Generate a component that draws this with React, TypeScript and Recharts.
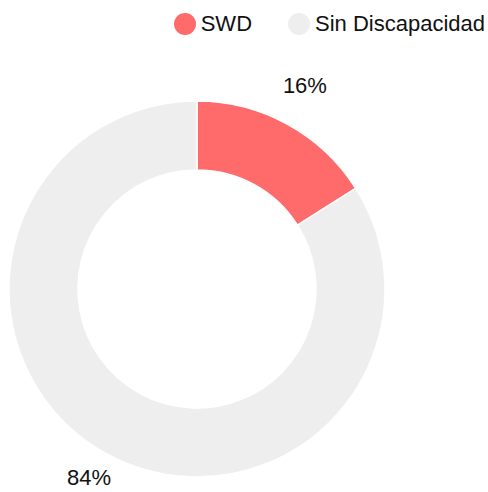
import { PieChart, Pie, Cell } from 'recharts'

const categories = ['SWD', 'Sin Discapacidad']
const values = [16, 84]
const colors = ['#FF6B6B', '#EEEEEE']

const data = categories.map((name, i) => ({ name, value: values[i] }))

const RADIAN = Math.PI / 180
const FONT = '"Liberation Sans", Arial, Helvetica, sans-serif'

const renderLabel = (props: any) => {
  const { cx, cy, midAngle, outerRadius, percent } = props
  const r = outerRadius + 36
  const x = cx + r * Math.cos(-midAngle * RADIAN)
  const y = cy + r * Math.sin(-midAngle * RADIAN)
  return (
    <text x={x} y={y} textAnchor="middle" fill="#111" fontSize={22} fontFamily={FONT}>
      {`${Math.round(percent * 100)}%`}
    </text>
  )
}

function ChartLegend() {
  return (
    <div style={{ position: 'absolute', top: 0, right: 3, display: 'flex', alignItems: 'center', height: 48, fontFamily: FONT, fontSize: 22, color: '#111' }}>
      {categories.map((c, i) => (
        <div key={c} style={{ display: 'flex', alignItems: 'center', marginLeft: i === 0 ? 0 : 36 }}>
          <span style={{ width: 22, height: 22, borderRadius: '50%', background: colors[i], marginRight: 5, display: 'inline-block' }} />
          <span>{c}</span>
        </div>
      ))}
    </div>
  )
}

export default function App() {
  return (
    <div style={{ position: 'absolute', left: 0, top: 0, width: 488, height: 492 }}>
      <PieChart width={488} height={492} margin={{ top: 0, right: 0, bottom: 0, left: 0 }}>
        <Pie
          data={data}
          dataKey="value"
          nameKey="name"
          cx={197}
          cy={289}
          innerRadius={119}
          outerRadius={188}
          startAngle={90}
          endAngle={-270}
          stroke="#fff"
          strokeWidth={1.5}
          label={renderLabel}
          labelLine={false}
          isAnimationActive={false}
        >
          {data.map((d, i) => (
            <Cell key={d.name} fill={colors[i]} />
          ))}
        </Pie>
      </PieChart>
      <ChartLegend />
    </div>
  )
}
